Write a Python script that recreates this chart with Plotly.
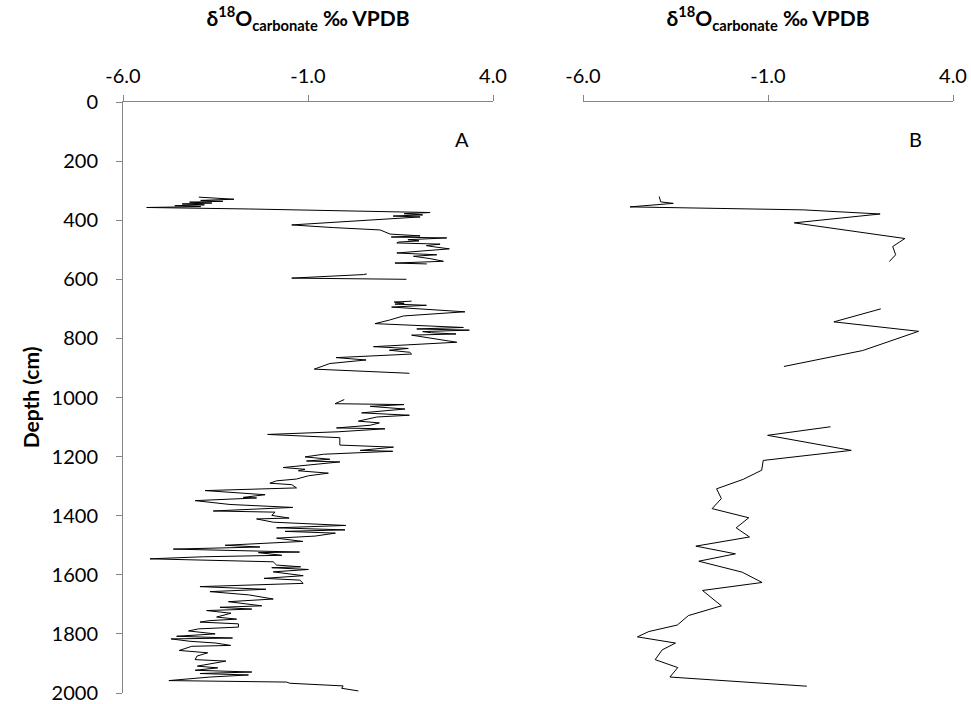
import plotly.graph_objects as go

# δ18O of carbonate (‰ VPDB) against core depth (cm); None marks a gap in the record.
depth_a = [
    322, 329, 333, 336, 339, 342, 345, 348, 351, 354, 357, 362, 374, 378, 382, 386, 389, 402, 416,
    425, 433, 447, 453, 457, 460, 466, 470, 474, 477, 481, 486, 490, 497, 505, 511, 517, 522, 530,
    539, 545, 548, None,
    582, 584, 596, 600, None,
    674, 677, 681, 684, 688, 694, 710, 724, 738, 750, 763, 768, 772, 777, 781, 785, 789, 802, 813,
    828, 834, 840, 847, 853, 865, 873, 885, 904, 918, None,
    1007, 1021, 1024, 1030, 1039, 1052, 1060, 1066, 1080, 1086, 1094, 1103, 1106, 1116, 1125, 1131,
    1136, 1161, 1168, 1179, 1182, 1192, 1201, 1209, 1215, 1218, 1237, 1243, 1248, 1256, 1265, 1276,
    1282, 1290, 1295, 1306, 1315, 1329, 1338, 1340, 1349, 1362, 1372, 1384, 1388, 1399, 1408, 1411,
    1422, 1433, 1441, 1448, 1453, 1459, 1469, 1476, 1487, 1500, 1506, 1513, 1523, 1525, 1534, 1539,
    1546, 1556, 1567, 1573, 1576, 1582, 1590, 1603, 1612, 1618, 1629, 1640, 1649, 1657, 1668, 1682,
    1691, 1705, 1710, 1716, 1721, 1730, 1743, 1750, 1755, 1760, 1766, 1777, 1783, 1790, 1800, 1808,
    1814, 1817, 1825, 1831, 1839, 1842, 1856, 1864, 1875, 1887, 1892, 1909, 1915, 1923, 1929, 1934,
    1939, 1946, 1958, 1963, 1967, 1976, 1984, 1993,
]
d18o_a = [
    -3.95, -3.0, -3.9, -3.3, -4.2, -3.6, -4.4, -3.8, -4.6, -3.9, -5.36, -2.6, 2.3, 1.6, 2.1, 1.3, 2.03, 0.22, -1.44,
    -0.32, 0.95, 1.22, 2.03, 1.25, 2.75, 1.7, 2.0, 1.45, 1.40, 2.57, 2.2, 2.4, 2.82, 2.0, 1.40, 2.48, 1.85, 2.3,
    2.66, 1.35, 2.21, None,
    0.59, 0.5, -1.44, 1.66, None,
    1.80, 1.33, 1.6, 1.35, 2.2, 1.26, 3.24, 1.58, 1.2, 0.81, 3.20, 1.94, 3.36, 2.1, 2.34, 3.0, 1.80, 2.52, 3.02,
    0.77, 1.71, 1.2, 1.75, 1.80, -0.24, 0.57, -0.41, -0.83, 1.74, None,
    -0.02, -0.27, 1.59, 0.68, 1.62, 0.45, 1.74, 0.86, 0.36, 0.93, 0.68, -0.23, 1.08, -0.18, -2.09, -1.04,
    -0.14, -0.14, 1.31, 0.41, 1.29, -0.58, -1.08, -0.41, -1.04, -0.14, -1.67, -1.08, -1.26, -0.45, -0.99, -1.31,
    -1.85, -2.03, -1.44, -1.31, -3.78, -2.16, -2.75, -2.39, -4.05, -3.11, -1.41, -3.56, -1.89, -1.98, -1.51, -2.39,
    -1.94, 0.02, -1.85, 0.00, -1.62, -0.26, -0.81, -1.85, -1.14, -3.24, -2.30, -4.64, -1.23, -2.34, -1.71, -3.83,
    -5.27, -1.94, -1.85, -1.20, -1.98, -0.99, -1.94, -1.13, -2.19, -1.22, -1.13, -3.92, -2.14, -3.65, -2.6, -1.94,
    -3.15, -2.25, -3.38, -2.52, -3.74, -3.08, -3.47, -2.93, -3.65, -3.92, -2.88, -2.88, -3.96, -4.23, -3.51, -4.55,
    -3.04, -4.70, -4.19, -3.49, -3.09, -4.14, -4.48, -3.71, -4.0, -4.05, -3.22, -3.99, -3.44, -4.05, -2.52, -3.92,
    -2.61, -3.65, -4.76, -1.58, -1.49, -0.05, -0.09, 0.36,
]

depth_b = [
    320, 338, 343, 355, 365, 379, 409, 462, 489, 517, 540, None,
    700, 744, 776, 841, 895, None,
    1099, 1128, 1179, 1213, 1246, 1277, 1309, 1342, 1376, 1407, 1441, 1472, 1503, 1529, 1554, 1591,
    1626, 1653, 1705, 1738, 1770, 1792, 1810, 1831, 1854, 1887, 1914, 1946, 1977,
]
d18o_b = [
    -3.94, -3.90, -3.56, -4.73, -0.05, 2.03, -0.29, 2.70, 2.37, 2.45, 2.28, None,
    2.05, 0.78, 3.07, 1.56, -0.57, None,
    0.69, -1.01, 1.25, -1.13, -1.17, -1.67, -2.39, -2.26, -2.51, -1.52, -1.86, -1.50, -2.95, -1.88, -2.87, -1.70,
    -1.16, -2.77, -2.26, -3.15, -3.45, -4.22, -4.53, -3.50, -3.86, -4.05, -3.44, -3.65, 0.05,
]

x_ticks = [-6, -1, 4]
x_tick_text = ["-6.0", "-1.0", "4.0"]
y_ticks = list(range(0, 2001, 200))
panel_labels = ["A", "B"]

FONT = "Lato, sans-serif"
AXIS_GREY = "#868686"
x_title = "<b>δ<sup>18</sup>O<sub>carbonate</sub> ‰ VPDB</b>"

fig = go.Figure()
fig.add_trace(go.Scatter(x=d18o_a, y=depth_a, mode="lines", xaxis="x", yaxis="y",
                         line=dict(color="black", width=1), connectgaps=False, showlegend=False))
fig.add_trace(go.Scatter(x=d18o_b, y=depth_b, mode="lines", xaxis="x2", yaxis="y2",
                         line=dict(color="black", width=1), connectgaps=False, showlegend=False))

xaxis_common = dict(
    range=[-6, 4], side="top", tickvals=x_ticks, ticktext=x_tick_text,
    showline=True, linecolor=AXIS_GREY, linewidth=1, ticks="outside", ticklen=6,
    tickcolor=AXIS_GREY, showgrid=False, zeroline=False, ticklabelstandoff=4,
    ticklabeloverflow="allow", automargin=False,
    tickfont=dict(size=20, color="black", family=FONT),
    title=dict(text=x_title, font=dict(size=21, color="black", family=FONT), standoff=30),
)

fig.update_layout(
    width=971, height=704,
    margin=dict(l=123, r=18, t=102, b=11),
    plot_bgcolor="white", paper_bgcolor="white",
    font=dict(family=FONT, color="black"),
    xaxis=dict(domain=[0, 370 / 830], anchor="y", **xaxis_common),
    xaxis2=dict(domain=[460 / 830, 1], anchor="y2", **xaxis_common),
    yaxis=dict(
        range=[2000, 0], tickvals=y_ticks, showline=True, linecolor=AXIS_GREY, linewidth=1,
        ticks="outside", ticklen=6, tickcolor=AXIS_GREY, showgrid=False, zeroline=False,
        anchor="x", ticklabelstandoff=14, ticklabeloverflow="allow", automargin=False,
        tickfont=dict(size=20, color="black", family=FONT),
    ),
    yaxis2=dict(range=[2000, 0], anchor="x2", visible=False, matches="y", automargin=False),
    annotations=[
        dict(text="<b>Depth (cm)</b>", x=-0.111, y=0.5, xref="paper", yref="paper",
             xanchor="center", yanchor="middle", textangle=-90, showarrow=False,
             font=dict(size=21, color="black", family=FONT)),
        dict(text=panel_labels[0], x=3.15, y=124, xref="x", yref="y", showarrow=False,
             font=dict(size=20, color="black", family=FONT)),
        dict(text=panel_labels[1], x=2.99, y=124, xref="x2", yref="y2", showarrow=False,
             font=dict(size=20, color="black", family=FONT)),
    ],
)

fig.write_html("out.html")
